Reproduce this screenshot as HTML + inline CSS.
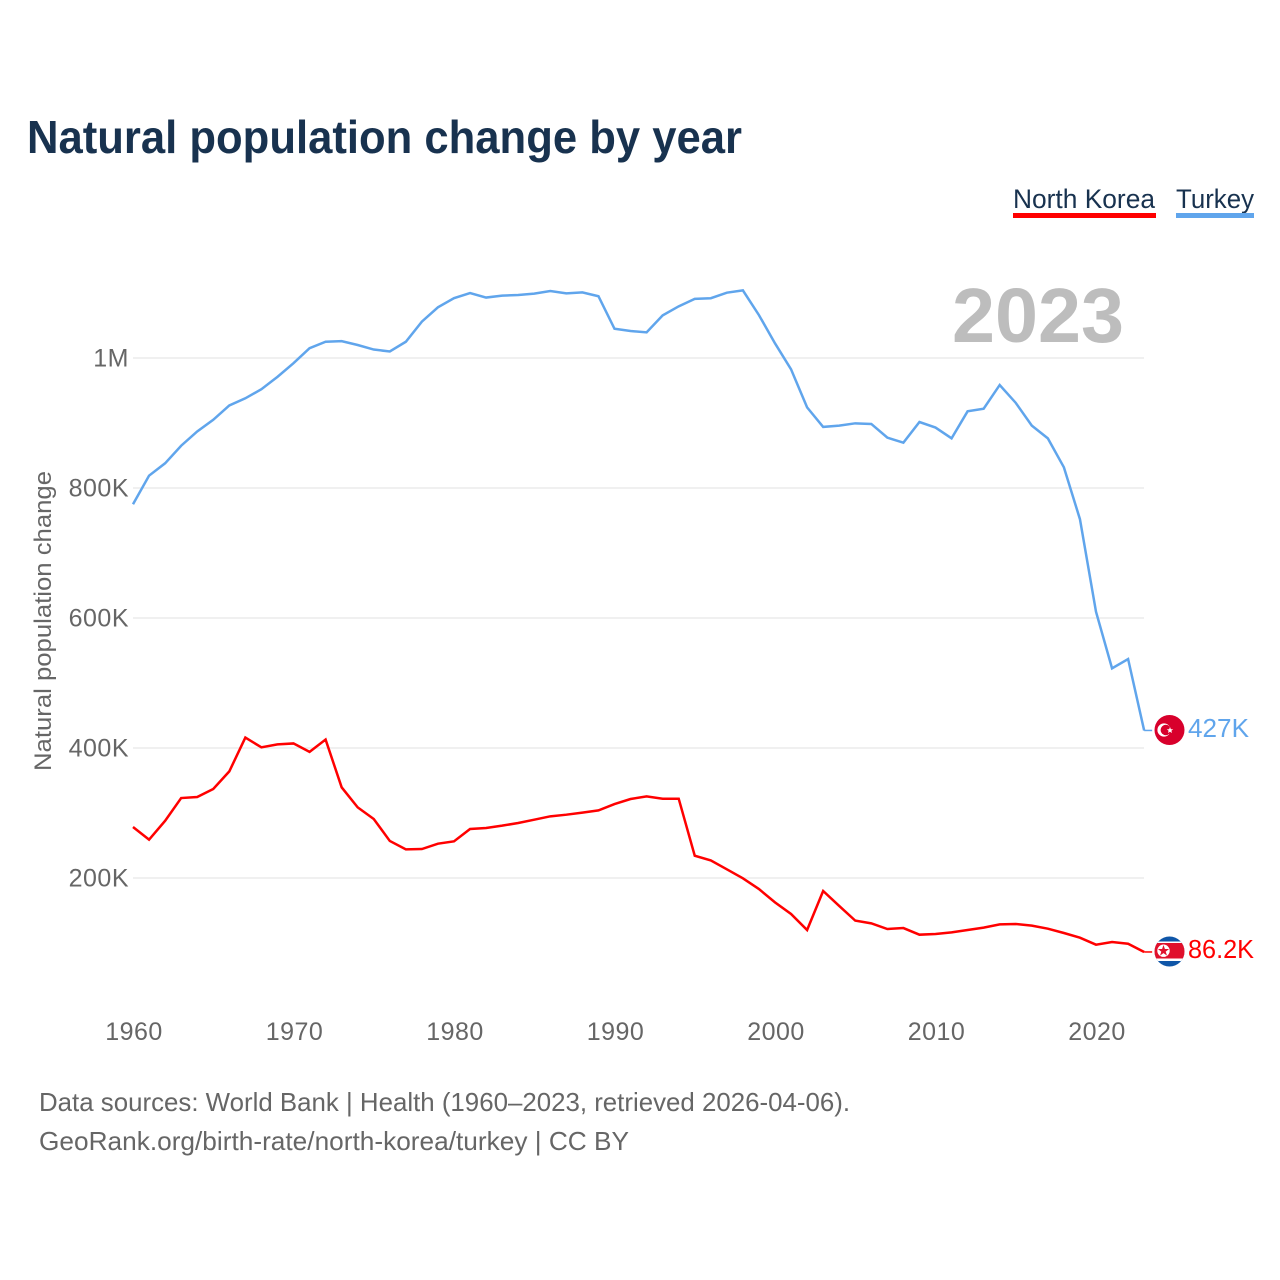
<!DOCTYPE html>
<html lang="en">
<head>
<meta charset="utf-8">
<title>Natural population change by year</title>
<style>
html,body{margin:0;padding:0;background:#fff;}
svg{display:block;font-family:"Liberation Sans",sans-serif;}
</style>
</head>
<body>
<svg id="chart" xmlns="http://www.w3.org/2000/svg" width="1280" height="1280" viewBox="0 0 1280 1280">
  <rect width="1280" height="1280" fill="#fff"/>
  <text x="27" y="153" font-size="46" font-weight="700" fill="#18324f" textLength="715" lengthAdjust="spacingAndGlyphs">Natural population change by year</text>

  <g>
    <text x="1013" y="208" font-size="27" fill="#18324f" textLength="142" lengthAdjust="spacingAndGlyphs">North Korea</text>
    <rect x="1013" y="213" width="143" height="5" fill="#ff0000"/>
  </g>
  <g>
    <text x="1176" y="208" font-size="27" fill="#18324f" textLength="78" lengthAdjust="spacingAndGlyphs">Turkey</text>
    <rect x="1176" y="213" width="78" height="5" fill="#60a5ec"/>
  </g>

  <g id="grid"></g>
  <g id="yticks"></g>
  <g id="xticks"></g>

  <text x="952" y="342" font-size="77" font-weight="700" fill="#bdbdbd" textLength="172" lengthAdjust="spacingAndGlyphs">2023</text>

  <text transform="translate(51,621) rotate(-90)" text-anchor="middle" font-size="24.5" fill="#666" textLength="300" lengthAdjust="spacingAndGlyphs">Natural population change</text>

  <g id="series"></g>

  <defs>
    <clipPath id="flag-clip-tr"><circle cx="1169.5" cy="730" r="15"/></clipPath>
    <clipPath id="flag-clip-kp"><circle cx="1169.5" cy="951.5" r="15"/></clipPath>
  </defs>

  <g clip-path="url(#flag-clip-tr)">
    <rect x="1153" y="713" width="33" height="34" fill="#d8002c"/>
    <circle cx="1164" cy="730" r="6.6" fill="#fff"/>
    <circle cx="1165.8" cy="730" r="5.2" fill="#d8002c"/>
    <polygon points="1170,727 1170.9,729.2 1173.2,729.3 1171.4,730.7 1172,733 1170,731.7 1168,733 1168.6,730.7 1166.8,729.3 1169.1,729.2" fill="#fff"/>
  </g>
  <g clip-path="url(#flag-clip-kp)">
    <rect x="1153" y="935" width="33" height="33" fill="#0f56a8"/>
    <rect x="1153" y="941.5" width="33" height="19.5" fill="#fff"/>
    <rect x="1153" y="943" width="33" height="15.5" fill="#e0102c"/>
    <circle cx="1163.5" cy="950.7" r="6.2" fill="#fff"/>
    <polygon points="1163.5,945 1164.9,949 1169.1,949 1165.7,951.6 1167,955.6 1163.5,953.1 1160,955.6 1161.3,951.6 1157.9,949 1162.1,949" fill="#e0102c"/>
  </g>

  <text id="label-tr" x="1188" y="737" font-size="25.5" fill="#60a5ec" textLength="61" lengthAdjust="spacingAndGlyphs">427K</text>
  <text id="label-kp" x="1188" y="958" font-size="25.5" fill="#ff0000" textLength="66" lengthAdjust="spacingAndGlyphs">86.2K</text>

  <text x="39" y="1111" font-size="26" fill="#666" textLength="811" lengthAdjust="spacingAndGlyphs">Data sources: World Bank | Health (1960–2023, retrieved 2026-04-06).</text>
  <text x="39" y="1150" font-size="26" fill="#666" textLength="590" lengthAdjust="spacingAndGlyphs">GeoRank.org/birth-rate/north-korea/turkey | CC BY</text>
</svg>

<script>
const firstYear = 1960;
const turkeyValues = [775,819,838,865,887,905,927,938,952,971,992,1015,1025,1026,1020,1013,1010,1025,1056,1078,1092,1100,1093,1096,1097,1099,1103,1099.5,1101,1095,1045,1041.5,1039.5,1065.6,1079.5,1091,1092,1100.5,1104,1066,1022.6,982.6,924,894,896,899.5,898.5,877.5,869.7,901.5,893,876.4,918,922,958.5,931,896,876.4,831.8,752,609.7,522.5,536.9,427];
const northKoreaValues = [278.5,259,288,323,324.6,337,364,416,401,405.6,407,394,413,339.5,308.7,290.8,257,244,244.6,252.8,256.4,275.4,277,280.5,284.6,289.7,294.9,297.4,300.5,304,313.8,321.5,325.6,322,322,234.3,227,213.4,199.5,183,162.5,144.6,120,180,157,134.4,130.2,121.5,123,112.8,113.8,116.4,120,123.6,128.7,129.2,126.7,122,115.4,108.2,97.4,101.5,98.9,86.2];
const yTickValues = [200,400,600,800,1000];
const yTickLabels = ["200K","400K","600K","800K","1M"];
const xTickYears = [1960,1970,1980,1990,2000,2010,2020];

const NS = "http://www.w3.org/2000/svg";
function xScale(year){ return 133 + (year - 1960) * 16.05; }
function yScale(v){ return 1008 - v * 0.65; }
function make(tag, attrs, parent){
  const el = document.createElementNS(NS, tag);
  for (const k in attrs) el.setAttribute(k, attrs[k]);
  parent.appendChild(el);
  return el;
}

const grid = document.getElementById("grid");
const yticks = document.getElementById("yticks");
const xticks = document.getElementById("xticks");
const series = document.getElementById("series");

yTickValues.forEach(function(v, i){
  const line = make("line", {x1:133, x2:1144, y1:yScale(v), y2:yScale(v), stroke:"#e8e8e8", "stroke-width":1.2}, grid);
  
  
  const t = make("text", {x:129, y:yScale(v)+8.5, "text-anchor":"end", "font-size":25, fill:"#666", "letter-spacing":0.5}, yticks);
  
  
  t.textContent = yTickLabels[i];
});

xTickYears.forEach(function(y){
  const t = make("text", {x:xScale(y)+1, y:1040, "text-anchor":"middle", "font-size":25, fill:"#666", "letter-spacing":0.5}, xticks);
  
  
  t.textContent = String(y);
});

function drawSeries(values, color, seriesName){
  const pts = values.map(function(v, i){ return xScale(firstYear + i).toFixed(2) + "," + yScale(v).toFixed(2); });
  const path = make("polyline", {points:pts.join(" "), fill:"none", stroke:color, "stroke-width":2.5, "stroke-linejoin":"miter"}, series);
  
  
  const last = values[values.length - 1];
  const lastX = xScale(firstYear + values.length - 1);
  const leader = make("line", {x1:lastX, x2:lastX + 8, y1:yScale(last), y2:yScale(last), stroke:color, "stroke-width":1.5}, series);
  
  
}
drawSeries(turkeyValues, "#60a5ec", "turkey-line");
drawSeries(northKoreaValues, "#ff0000", "north-korea-line");
</script>
</body>
</html>
